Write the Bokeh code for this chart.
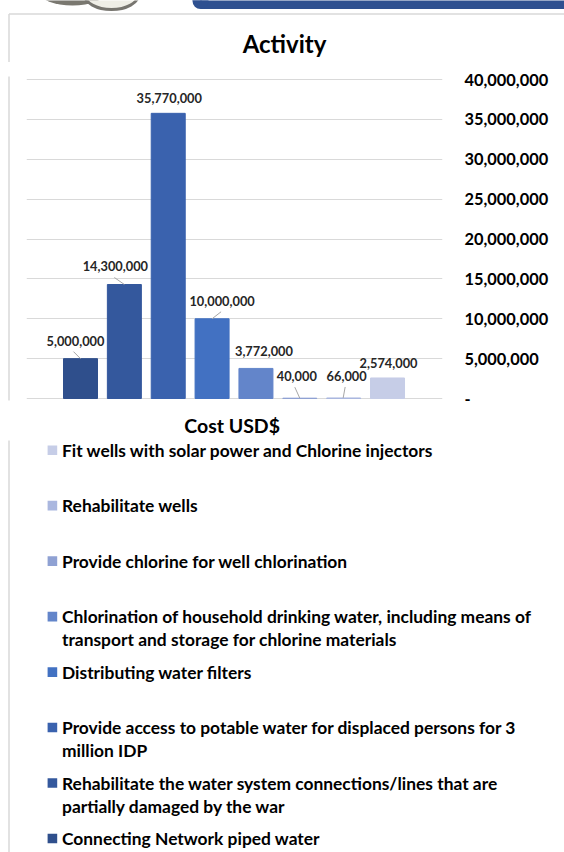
import textwrap
from bokeh.plotting import figure
from bokeh.layouts import column, row
from bokeh.models import (ColumnDataSource, LabelSet, FixedTicker,
                          NumeralTickFormatter, Range1d)
from bokeh.core.properties import value
from bokeh.embed import file_html
from bokeh.resources import INLINE

# ---------------- data ----------------
activities = [
    "Connecting Network piped water",
    "Rehabilitate the water system connections/lines that are partially damaged by the war",
    "Provide access to potable water for displaced persons for 3 million IDP",
    "Distributing water filters",
    "Chlorination of household drinking water, including means of transport and storage for chlorine materials",
    "Provide chlorine for well chlorination",
    "Rehabilitate wells",
    "Fit wells with solar power and Chlorine injectors",
]
cost_usd = [5000000, 14300000, 35770000, 10000000, 3772000, 40000, 66000, 2574000]
y_ticks = [0, 5000000, 10000000, 15000000, 20000000, 25000000, 30000000, 35000000, 40000000]
title_text = "Activity"
axis_title = "Cost  USD$"

# ---------------- styles ----------------
bar_colors = ["#2F4F8C", "#34589D", "#3A62AE", "#4271C2", "#6385CA",
              "#8FA1D3", "#AAB7DF", "#C6CDE7"]
FONT = "Lato"
BORDER = "#D9D9D9"
# data-label offsets (px) relative to the top centre of each bar
lab_dx = [-5, -9, 1, 10, 8, -3, 3, 1]
lab_dy = [18, 19, 15, 18, 17, 22, 22, 15]
# leader lines (px, relative to bar top centre): (x0, y0, x1, y1) or None
leaders = [(-7, 7, 0, 0), (-10, 7, 0, 0), None, (9, 7, 0, 0), None,
           (-5, 11, 0, 0), (1.5, 11, -0.5, 0), None]

W = 564
HEADER_H = 62          # canvas rows 0..62
CHART_H = 378          # canvas rows 62..440
LEGEND_H = 852 - HEADER_H - CHART_H
STRIP_W = 26
FRAME_W = 416
FRAME_TOP, FRAME_BOTTOM = 76, 400       # absolute canvas rows of plot frame
ZERO_Y, STEP_5M = 398, 39.86            # canvas row of 0, px per 5,000,000
BAR_X0, BAR_STEP = 80, 43.86            # canvas column of first bar, px per bar


def bare(fig):
    fig.outline_line_color = None
    fig.xgrid.visible = False
    fig.ygrid.visible = False
    return fig


def px_figure(w, h, y0):
    """figure whose data coordinates equal canvas pixels (y grows downward)"""
    f = figure(width=w, height=h, x_range=Range1d(0, w),
               y_range=Range1d(y0 + h, y0), min_border=0,
               x_axis_location=None, y_axis_location=None,
               output_backend="svg", toolbar_location=None, title=None,
               background_fill_color="white", border_fill_color="white")
    return bare(f)


# ---------------- header ----------------
hdr = px_figure(W, HEADER_H, 0)
hdr.ellipse(x=[72], y=[-8], width=66, height=26, fill_color="#7A7870",
            line_color=None)
hdr.ellipse(x=[111], y=[-6], width=54, height=30, fill_color="#EFEEE6",
            line_color="#77756F", line_width=3)
hdr.quad(left=[200], right=[W + 10], top=[-10], bottom=[8.5],
         fill_color="#2E5090", line_color=None)
hdr.quad(left=[192], right=[201], top=[-10], bottom=[0.5],
         fill_color="#2E5090", line_color=None)
hdr.circle(x=[200], y=[0.5], radius=8, fill_color="#2E5090", line_color=None)
hdr.segment(x0=[8.5, 8.5], y0=[13.5, 13.5], x1=[W + 10, 8.5], y1=[13.5, 80],
            line_color=BORDER, line_width=1.5)
hdr.text(x=[284], y=[43], text=[title_text], text_align="center",
         text_baseline="middle", text_font=value(FONT),
         text_font_style="bold", text_font_size="24px", text_color="#000000")

# ---------------- left strip (panel border) ----------------
strip = px_figure(STRIP_W, CHART_H, HEADER_H)
strip.segment(x0=[8.5], y0=[HEADER_H - 5], x1=[8.5], y1=[HEADER_H + CHART_H + 5],
              line_color=BORDER, line_width=1.5)

# ---------------- chart ----------------
px_y = 5000000 / STEP_5M
px_x = 1 / BAR_STEP
X0 = (STRIP_W - BAR_X0) * px_x
X1 = (STRIP_W + FRAME_W - BAR_X0) * px_x
Y1 = (ZERO_Y - FRAME_TOP) * px_y
Y0 = (ZERO_Y - FRAME_BOTTOM) * px_y

p = figure(frame_width=FRAME_W, frame_height=FRAME_BOTTOM - FRAME_TOP,
           min_border_left=0, min_border_right=W - STRIP_W - FRAME_W,
           min_border_top=FRAME_TOP - HEADER_H,
           min_border_bottom=HEADER_H + CHART_H - FRAME_BOTTOM,
           x_range=Range1d(X0, X1), y_range=Range1d(Y0, Y1),
           y_axis_location="right", title=None,
           output_backend="svg", toolbar_location=None,
           background_fill_color="white", border_fill_color="white")
p.outline_line_color = None
p.xgrid.visible = False
p.ygrid.grid_line_color = BORDER
p.ygrid.grid_line_width = 1
p.ygrid.ticker = FixedTicker(ticks=y_ticks)

ay = p.yaxis[0]
ay.ticker = FixedTicker(ticks=y_ticks)
ay.formatter = NumeralTickFormatter(format="0,0")
ay.major_label_overrides = {0: "-"}
ay.axis_line_color = None
ay.major_tick_line_color = None
ay.minor_tick_line_color = None
ay.major_tick_out = 0
ay.major_tick_in = 0
ay.major_label_standoff = 22
ay.major_label_text_font = FONT
ay.major_label_text_font_style = "bold"
ay.major_label_text_font_size = "16.4px"
ay.major_label_text_color = "#000000"

ax = p.xaxis[0]
ax.ticker = FixedTicker(ticks=[])
ax.axis_line_color = None
ax.major_tick_line_color = None
ax.minor_tick_line_color = None
ax.major_tick_out = 0
ax.major_tick_in = 0
ax.major_label_standoff = 0
ax.axis_label = axis_title
ax.axis_label_standoff = 13
ax.axis_label_text_font = FONT
ax.axis_label_text_font_style = "bold"
ax.axis_label_text_font_size = "19.5px"
ax.axis_label_text_color = "#000000"

xs = list(range(len(cost_usd)))
src = ColumnDataSource(dict(
    x=xs, top=cost_usd, color=bar_colors,
    label=[f"{v:,}" for v in cost_usd],
    dx=lab_dx, dy=lab_dy))
p.vbar(x="x", top="top", width=34 * px_x, color="color", source=src)

p.add_layout(LabelSet(x="x", y="top", text="label", x_offset="dx", y_offset="dy",
                      source=src, text_align="center", text_baseline="middle",
                      text_font=value(FONT), text_font_style="bold",
                      text_font_size="12.8px", text_color="#262626"))

lx0, ly0, lx1, ly1 = [], [], [], []
for i, ld in enumerate(leaders):
    if ld is None:
        continue
    a, b, c, d = ld
    lx0.append(xs[i] + a * px_x)
    ly0.append(cost_usd[i] + b * px_y)
    lx1.append(xs[i] + c * px_x)
    ly1.append(cost_usd[i] + d * px_y)
p.segment(x0=lx0, y0=ly0, x1=lx1, y1=ly1, line_color="#A6A6A6", line_width=1)

# ---------------- legend ----------------
LEG_TOP = HEADER_H + CHART_H
leg = px_figure(W, LEGEND_H, LEG_TOP)
leg.segment(x0=[8.5], y0=[LEG_TOP - 5], x1=[8.5], y1=[860],
            line_color=BORDER, line_width=1.5)
LEG_Y0, LEG_STEP, LINE_H = 449.7, 55.47, 23
sq_y, sq_c, tx, ty, tt = [], [], [], [], []
for k, idx in enumerate(reversed(xs)):
    cy = LEG_Y0 + k * LEG_STEP
    sq_y.append(cy)
    sq_c.append(bar_colors[idx])
    for j, line in enumerate(textwrap.wrap(activities[idx], width=61)):
        tx.append(61.5)
        ty.append(cy + j * LINE_H)
        tt.append(line)
leg.rect(x=[51.9] * len(sq_y), y=sq_y, width=9.6, height=9.6,
         fill_color=sq_c, line_color=None)
leg.text(x=tx, y=ty, text=tt, text_align="left", text_baseline="middle",
         text_font=value(FONT), text_font_style="bold",
         text_font_size="17.4px", text_color="#000000")

layout = column(hdr, row(strip, p, spacing=0), leg, spacing=0)
open("out.html", "w").write(file_html(layout, INLINE))
